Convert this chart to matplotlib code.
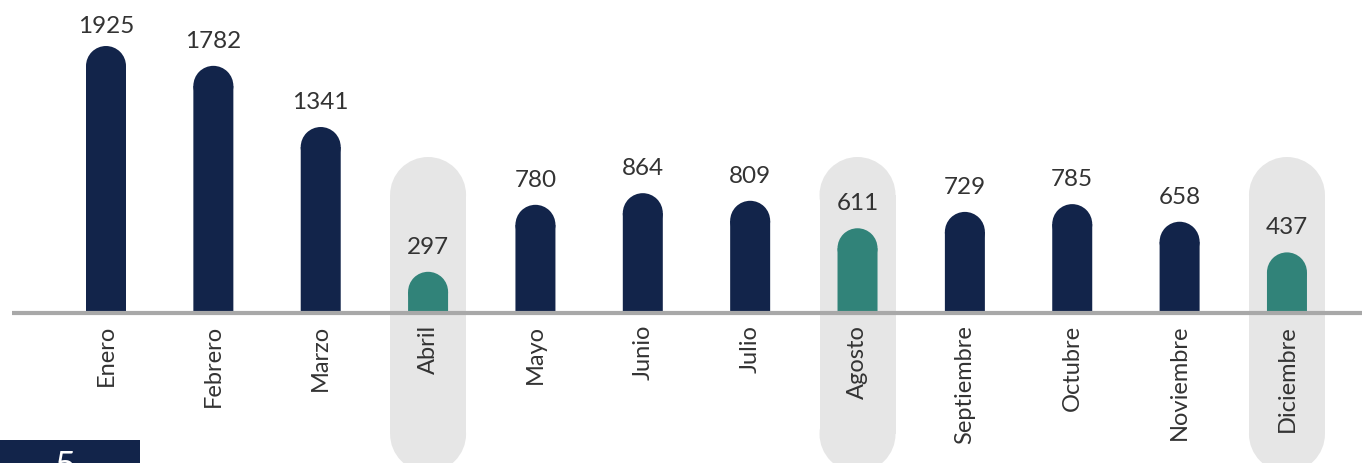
import matplotlib
matplotlib.use("Agg")
import matplotlib.pyplot as plt
from matplotlib.patches import Ellipse, Rectangle

months = ["Enero", "Febrero", "Marzo", "Abril", "Mayo", "Junio", "Julio",
          "Agosto", "Septiembre", "Octubre", "Noviembre", "Diciembre"]
values = [1925, 1782, 1341, 297, 780, 864, 809, 611, 729, 785, 658, 437]
highlight = ["Abril", "Agosto", "Diciembre"]

NAVY = "#12244a"
TEAL = "#318379"
PILL = "#e6e6e6"
LINE = "#a8a8a8"
TXT = "#333333"

W, H = 1362, 463
fig = plt.figure(figsize=(W / 100, H / 100), dpi=100)
ax = fig.add_axes([0, 0, 1, 1])

# pixel mapping
x0_px, step_px = 106, 107.36
base_px = 313
upp = 7.21  # data units per pixel (y)
ax.set_xlim(-x0_px / step_px, (W - x0_px) / step_px)
ax.set_ylim(-(H - base_px) * upp, base_px * upp)
ax.axis("off")

bw = 40 / step_px
r_y = 20 * upp

# highlight pills
pw = 76 / step_px
pr_y = 38 * upp
p_top = (base_px - 157) * upp
p_bot = (base_px - 472) * upp
for i, m in enumerate(months):
    if m in highlight:
        ax.add_patch(Rectangle((i - pw / 2, p_bot + pr_y), pw, p_top - p_bot - 2 * pr_y,
                               color=PILL, lw=0, zorder=1))
        ax.add_patch(Ellipse((i, p_top - pr_y), pw, 2 * pr_y, color=PILL, lw=0, zorder=1))
        ax.add_patch(Ellipse((i, p_bot + pr_y), pw, 2 * pr_y, color=PILL, lw=0, zorder=1))

# bars with rounded tops
label_max = (base_px - 33) * upp
for i, (m, v) in enumerate(zip(months, values)):
    c = TEAL if m in highlight else NAVY
    bars = ax.bar(i, v - r_y, width=bw, color=c, lw=0, zorder=2)
    for b in bars:
        b.set_snap(False)
    ax.add_patch(Ellipse((i, v - r_y), bw, 2 * r_y, color=c, lw=0, zorder=2))
    ax.text(i, min(v + 18 * upp, label_max), str(v), ha="center", va="baseline",
            fontsize=17.5, color=TXT, family="Lato", zorder=4)
    ax.text(i, -12 * upp, m, ha="center", va="top", rotation=90,
            fontsize=17, color=TXT, family="Lato", zorder=4)

# baseline
ax.plot([(12 - x0_px) / step_px, (W - x0_px) / step_px], [0, 0],
        color=LINE, lw=3, solid_capstyle="butt", zorder=3)

# bottom-left page number box
fig.patches.append(Rectangle((0, 0), 140 / W, 23 / H, transform=fig.transFigure,
                             color=NAVY, lw=0, zorder=5))
fig.text(65 / W, 1 - 450 / H, "5", ha="center", va="top", fontsize=26,
         color="white", family="Lato", zorder=6)

fig.savefig("out.png", dpi=100)
